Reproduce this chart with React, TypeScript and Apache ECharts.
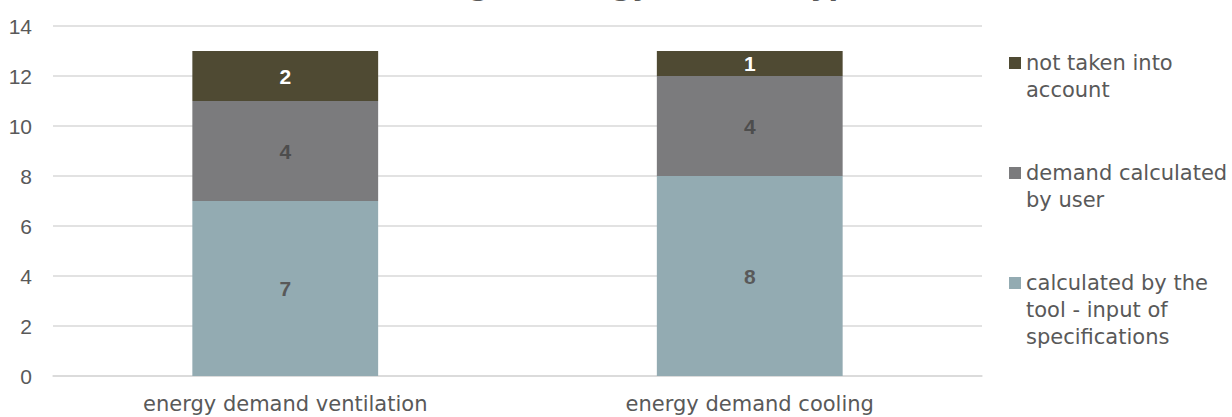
import React, { useEffect, useRef } from "react";
import * as echarts from "echarts";

const categories = ["energy demand ventilation", "energy demand cooling"];
const calculatedByTool = [7, 8];
const calculatedByUser = [4, 4];
const notTakenIntoAccount = [2, 1];
const yTicks = [0, 2, 4, 6, 8, 10, 12, 14];
const seriesNames = [
  "calculated by the tool - input of specifications",
  "demand calculated by user",
  "not taken into account",
];
const legendLabels = [
  "\n\ncalculated by the\ntool - input of\nspecifications",
  "\ndemand calculated\nby user",
  "\nnot taken into\naccount",
];
const chartTitle = "Handling of energy demand types";

const FONT = "DejaVu Sans";
const NUM_FONT = "Liberation Sans";
const TEXT = "#595959";

export default function App() {
  const ref = useRef<HTMLDivElement>(null);
  useEffect(() => {
    if (!ref.current) return;
    const chart = echarts.init(ref.current, undefined, { renderer: "svg" });
    const legendBase = {
      orient: "vertical" as const,
      left: 1009,
      padding: 0,
      itemWidth: 12,
      itemHeight: 12,
      icon: "rect",
      textStyle: { fontFamily: FONT, fontSize: 21, color: TEXT, lineHeight: 27 },
    };
    const dataLabel = (color: string) => ({
      show: true,
      position: "inside",
      fontFamily: NUM_FONT,
      fontSize: 21,
      fontWeight: "bold",
      color,
    });
    chart.setOption({
      animation: false,
      title: {
        text: chartTitle,
        left: "center",
        top: -34,
        textStyle: { fontFamily: FONT, fontSize: 28, fontWeight: "bold", color: TEXT },
      },
      grid: { left: 53, right: 250, top: 26, bottom: 41, containLabel: false },
      legend: [
        { ...legendBase, top: 22.5, data: [seriesNames[2]], formatter: () => legendLabels[2] },
        { ...legendBase, top: 132.5, data: [seriesNames[1]], formatter: () => legendLabels[1] },
        { ...legendBase, top: 215.5, data: [seriesNames[0]], formatter: () => legendLabels[0] },
      ],
      xAxis: {
        type: "category",
        data: categories,
        axisLine: { show: true, lineStyle: { color: "#d9d9d9", width: 1.5 } },
        axisTick: { show: false },
        axisLabel: { fontFamily: FONT, fontSize: 21, color: TEXT, margin: 17 },
      },
      yAxis: {
        type: "value",
        min: yTicks[0],
        max: yTicks[yTicks.length - 1],
        interval: 2,
        axisLine: { show: false },
        axisTick: { show: false },
        splitLine: { lineStyle: { color: "#d9d9d9", width: 1.5 } },
        axisLabel: { fontFamily: NUM_FONT, fontSize: 21, color: TEXT, margin: 21 },
      },
      series: [
        {
          name: seriesNames[0],
          type: "bar",
          stack: "total",
          barWidth: "40%",
          data: calculatedByTool,
          itemStyle: { color: "#93abb2" },
          label: dataLabel("#595959"),
        },
        {
          name: seriesNames[1],
          type: "bar",
          stack: "total",
          data: calculatedByUser,
          itemStyle: { color: "#7b7b7d" },
          label: dataLabel("#4d4d4d"),
        },
        {
          name: seriesNames[2],
          type: "bar",
          stack: "total",
          data: notTakenIntoAccount,
          itemStyle: { color: "#4f4a33" },
          label: dataLabel("#ffffff"),
        },
      ],
    });
    return () => chart.dispose();
  }, []);
  return <div ref={ref} style={{ width: 1232, height: 417, position: "absolute", left: 0, top: 0 }} />;
}
